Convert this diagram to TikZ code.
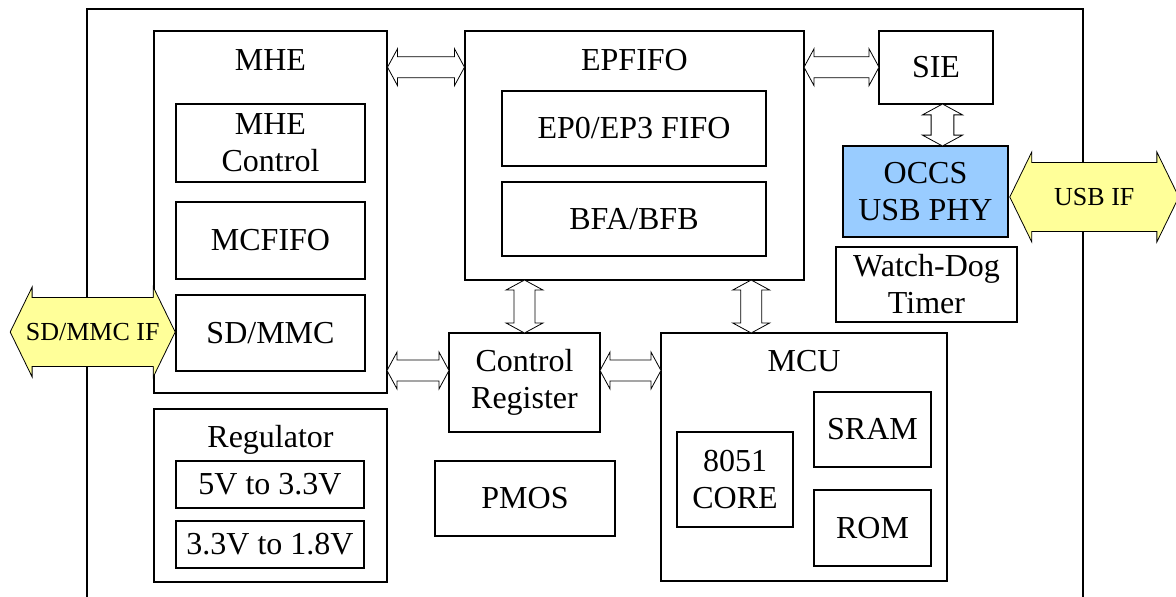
\documentclass[tikz,border=0pt]{standalone}
\usepackage{fontspec}
\setmainfont{Liberation Serif}
\usetikzlibrary{shapes.arrows,calc}
\definecolor{phyblue}{HTML}{99CCFF}
\definecolor{ifyellow}{HTML}{FFFF99}
\begin{document}
\begin{tikzpicture}[x=1pt,y=-1pt,
    blk/.style={draw,line width=1.6pt,inner sep=0pt,align=center},
    dbl/.style={double arrow,draw,fill=white,line width=0.8pt,
      inner xsep=0pt,inner ysep=9pt,minimum width=37pt,
      double arrow tip angle=123,double arrow head indent=0pt},
    bigarr/.style={double arrow,draw,fill=ifyellow,line width=0.8pt,
      inner xsep=0pt,inner ysep=23pt,minimum width=90pt,
      double arrow tip angle=128,double arrow head indent=0pt}]
    \tikzstyle{every node}=[font=\fontsize{32}{37}\selectfont]
    \useasboundingbox (0,0) rectangle (1176,597);
    \draw[line width=1.6pt] (87,597) -- (87,9) -- (1083,9) -- (1083,597);
    \node[blk,minimum width=233pt,minimum height=362pt] (mhe) at (270.5,212) {};
    \node at ($(mhe.north)+(0,30)$) {MHE};
    \node[blk,minimum width=189pt,minimum height=78pt] (mhectl) at (270.5,143) {MHE\\Control};
    \node[blk,minimum width=189pt,minimum height=77pt] (mcfifo) at (270.5,240.5) {MCFIFO};
    \node[blk,minimum width=189pt,minimum height=76pt] (sdmmc) at (270.5,333) {SD/MMC};
    \node[blk,minimum width=233pt,minimum height=173pt] (reg) at (270.5,495.5) {};
    \node at ($(reg.north)+(0,32)$) {Regulator};
    \node[blk,minimum width=188pt,minimum height=47pt] (vthree) at (270,484.5) {5V to 3.3V};
    \node[blk,minimum width=188pt,minimum height=47pt] (vone) at (270,544.5) {3.3V to 1.8V};
    \node[blk,minimum width=339pt,minimum height=249pt] (epfifo) at (634.5,155.5) {};
    \node at ($(epfifo.north)+(0,30)$) {EPFIFO};
    \node[blk,minimum width=264pt,minimum height=75pt] (epfour) at (634,128.5) {EP0/EP3 FIFO};
    \node[blk,minimum width=264pt,minimum height=74pt] (bfab) at (634,219) {BFA/BFB};
    \node[blk,minimum width=114pt,minimum height=73pt] (sie) at (936,67.5) {SIE};
    \node[blk,fill=phyblue,minimum width=165pt,minimum height=91pt] (phy) at (925.5,191.5) {OCCS\\USB PHY};
    \node[blk,minimum width=181pt,minimum height=75pt] (wdt) at (926.5,284.5) {Watch-Dog\\Timer};
    \node[blk,minimum width=151pt,minimum height=99pt] (ctrl) at (524.5,382.5) {Control\\Register};
    \node[blk,minimum width=286pt,minimum height=248pt] (mcu) at (804,457) {};
    \node at ($(mcu.north)+(0,29)$) {MCU};
    \node[blk,minimum width=117pt,minimum height=75pt] (sram) at (872.5,429.5) {SRAM};
    \node[blk,minimum width=116pt,minimum height=95pt] (core) at (735,479.5) {8051\\CORE};
    \node[blk,minimum width=117pt,minimum height=76pt] (rom) at (872.5,528) {ROM};
    \node[blk,minimum width=180pt,minimum height=75pt] (pmos) at (525,498.5) {PMOS};
    \node[dbl,minimum height=77pt] (mheep) at ($(mhe.north east)!.5!(epfifo.north west)+(0,37)$) {};
    \node[dbl,minimum height=75pt] (epsie) at ($(epfifo.north east)!.5!(sie.north west)+(0,37)$) {};
    \node[dbl,rotate=90,minimum height=42pt,minimum width=40pt] (siephy) at ($(sie.south)!.5!(sie.south |- phy.north)+(6.5,0)$) {};
    \node[dbl,rotate=90,minimum height=53pt] (epctrl) at ($(ctrl.north)!.5!(ctrl.north |- epfifo.south)$) {};
    \node[dbl,rotate=90,minimum height=53pt] (epmcu) at ($(mcu.north west)!.5!(mcu.north west |- epfifo.south)+(91,0)$) {};
    \node[dbl,minimum height=62pt] (mhectrl) at ($(mhe.east |- ctrl.west)!.5!(ctrl.west)+(0,-12)$) {};
    \node[dbl,minimum height=61pt] (ctrlmcu) at ($(ctrl.east)!.5!(ctrl.east -| mcu.west)+(0,-12)$) {};
    \node[bigarr,minimum height=165pt] (sdif) at ($(sdmmc.west)+(-82.5,-1)$) {};
    \node[font=\fontsize{26}{30}\selectfont] at (sdif) {SD/MMC IF};
    \node[bigarr,minimum height=169pt] (usbif) at ($(phy.east)+(85.5,5.5)$) {};
    \node[font=\fontsize{26}{30}\selectfont] at (usbif) {USB IF};
\end{tikzpicture}
\end{document}
